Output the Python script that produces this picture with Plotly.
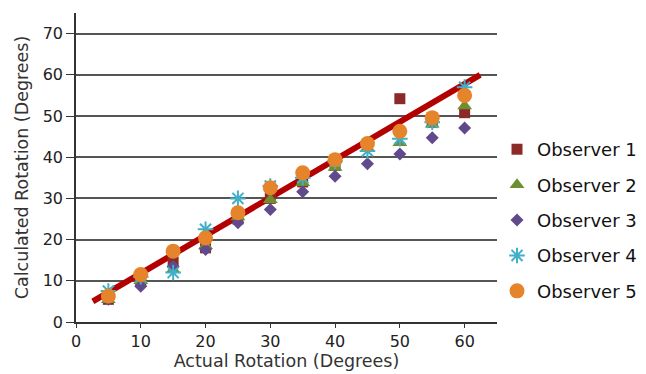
import plotly.graph_objects as go

x_vals = [5, 10, 15, 20, 25, 30, 35, 40, 45, 50, 55, 60]
obs1 = [5.5, 10.0, 14.5, 18.0, 25.0, 30.0, 34.0, 38.0, 43.0, 54.2, 48.5, 50.8]
obs2 = [5.4, 10.0, 12.7, 18.5, 25.5, 29.7, 33.8, 37.5, 42.3, 43.5, 48.0, 52.4]
obs3 = [5.5, 8.7, 13.5, 17.6, 24.1, 27.3, 31.6, 35.4, 38.4, 40.8, 44.7, 47.1]
obs4 = [7.5, 11.0, 12.0, 22.5, 30.0, 33.0, 35.0, 39.0, 41.5, 44.5, 48.5, 57.0]
obs5 = [6.3, 11.5, 17.2, 20.4, 26.5, 32.6, 36.2, 39.4, 43.3, 46.3, 49.6, 55.0]
fit_x = [2.6, 62.4]
fit_y = [5.0, 60.0]

names = ["Observer 1", "Observer 2", "Observer 3", "Observer 4", "Observer 5"]
series = [obs1, obs2, obs3, obs4, obs5]
colors = ["#8c2a2a", "#6f8f2f", "#604a8b", "#3fb0c8", "#e5842a"]
symbols = ["square", "triangle-up", "diamond", "asterisk-open", "circle"]
sizes = [11, 13, 10, 13, 15]

y_ticks = [0, 10, 20, 30, 40, 50, 60, 70]
x_ticks = [0, 10, 20, 30, 40, 50, 60]

fig = go.Figure()
fig.add_trace(go.Scatter(x=fit_x, y=fit_y, mode="lines",
                         line=dict(color="#b30000", width=6),
                         showlegend=False, hoverinfo="skip"))
for n, s, c, sym, sz in zip(names, series, colors, symbols, sizes):
    mk = dict(color=c, size=sz, symbol=sym)
    if sym == "asterisk-open":
        mk["line"] = dict(color=c, width=2)
    fig.add_trace(go.Scatter(x=x_vals, y=s, mode="markers", name=n,
                             legendgroup=n, marker=mk))

font = "DejaVu Sans, Verdana, sans-serif"
# page body has an 8px margin; figure sits at (8, 8)
fig.update_layout(
    width=646, height=366,
    margin=dict(l=68, r=157, t=5, b=52),
    paper_bgcolor="white", plot_bgcolor="white",
    font=dict(family=font, size=16, color="#222"),
    legend=dict(x=1.0, y=0.33, yanchor="middle", xanchor="left",
                font=dict(size=18, color="#111"),
                tracegroupgap=9, itemwidth=30, bgcolor="rgba(0,0,0,0)"),
    xaxis=dict(range=[0, 65], tickvals=x_ticks, showgrid=False,
               showline=True, linecolor="#333", linewidth=1.5,
               ticks="outside", ticklen=4, tickcolor="#333",
               zeroline=False, automargin=False,
               title=dict(text="Actual Rotation (Degrees)", standoff=2,
                          font=dict(size=17.5, color="#333")),
               tickfont=dict(size=16)),
    yaxis=dict(range=[0, 75], tickvals=y_ticks, showgrid=True,
               gridcolor="#555", gridwidth=1.5,
               showline=True, linecolor="#333", linewidth=1.5,
               ticks="outside", ticklen=8, tickcolor="#333",
               zeroline=False, automargin=False,
               title=dict(text="Calculated Rotation (Degrees)", standoff=10,
                          font=dict(size=17.5, color="#333")),
               tickfont=dict(size=16)),
)
fig.write_html("out.html")
